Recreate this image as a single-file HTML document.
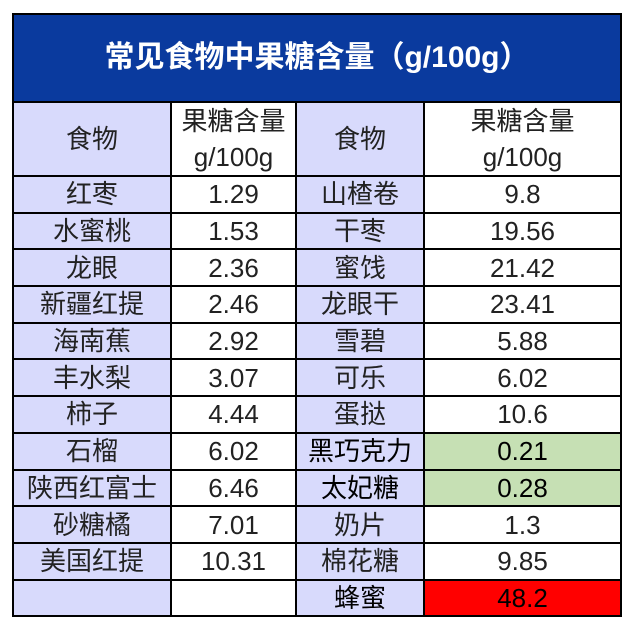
<!DOCTYPE html>
<html><head><meta charset="utf-8"><style>
body{margin:0;background:#fff;width:636px;height:629px;overflow:hidden;font-family:"Liberation Sans","Noto Sans CJK SC",sans-serif}
table{position:absolute;left:12px;top:13px;border-collapse:collapse;table-layout:fixed}
td{border:2px solid #000;padding:0;text-align:center;font-size:26px;color:#222;line-height:28px;white-space:nowrap;overflow:hidden}
.t{background:#0a3a9e;color:#fff;font-weight:bold;font-size:30px;height:86px;border-color:#000}
.f{background:#d8dafc}
.w{background:#fff}
.g{background:#c6e0b4}
.r{background:#ff0000}
tr.d td{height:34.7px}
tr.h td{height:72px;line-height:36px}
</style></head><body>
<table>
<colgroup><col style="width:158px"><col style="width:125px"><col style="width:128px"><col style="width:197px"></colgroup>
<tr><td class="t" colspan="4">常见食物中果糖含量（g/100g）</td></tr>
<tr class="h"><td class="f">食物</td><td class="w">果糖含量<br>g/100g</td><td class="f">食物</td><td class="w">果糖含量<br>g/100g</td></tr>
<tr class="d"><td class="f">红枣</td><td>1.29</td><td class="f">山楂卷</td><td>9.8</td></tr>
<tr class="d"><td class="f">水蜜桃</td><td>1.53</td><td class="f">干枣</td><td>19.56</td></tr>
<tr class="d"><td class="f">龙眼</td><td>2.36</td><td class="f">蜜饯</td><td>21.42</td></tr>
<tr class="d"><td class="f">新疆红提</td><td>2.46</td><td class="f">龙眼干</td><td>23.41</td></tr>
<tr class="d"><td class="f">海南蕉</td><td>2.92</td><td class="f">雪碧</td><td>5.88</td></tr>
<tr class="d"><td class="f">丰水梨</td><td>3.07</td><td class="f">可乐</td><td>6.02</td></tr>
<tr class="d"><td class="f">柿子</td><td>4.44</td><td class="f">蛋挞</td><td>10.6</td></tr>
<tr class="d"><td class="f">石榴</td><td>6.02</td><td class="f" style="color:#000">黑巧克力</td><td class="g" style="color:#000">0.21</td></tr>
<tr class="d"><td class="f">陕西红富士</td><td>6.46</td><td class="f" style="color:#000">太妃糖</td><td class="g" style="color:#000">0.28</td></tr>
<tr class="d"><td class="f">砂糖橘</td><td>7.01</td><td class="f">奶片</td><td>1.3</td></tr>
<tr class="d"><td class="f">美国红提</td><td>10.31</td><td class="f">棉花糖</td><td>9.85</td></tr>
<tr class="d"><td class="f"></td><td></td><td class="f" style="color:#000">蜂蜜</td><td class="r" style="color:#000">48.2</td></tr>
</table>
</body></html>
